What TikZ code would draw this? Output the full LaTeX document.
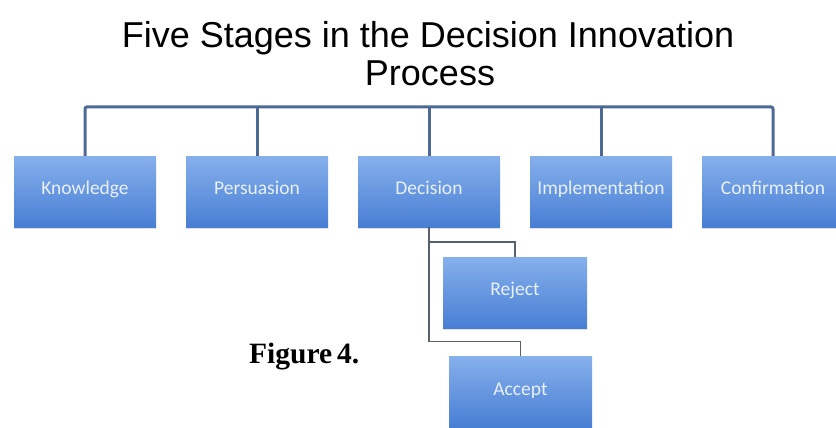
\documentclass[tikz,border=0pt]{standalone}
\usepackage{fontspec}
\setmainfont{Liberation Serif}
\newfontfamily\titlefont{Liberation Sans}
\newfontfamily\boxfont{Carlito}
\usetikzlibrary{shadows}
\definecolor{boxtop}{RGB}{134,176,236}
\definecolor{boxbot}{RGB}{72,126,212}
\definecolor{boxtext}{RGB}{232,240,252}
\definecolor{busline}{RGB}{76,106,148}
\definecolor{subline}{RGB}{88,96,108}
\tikzset{
  stagebox/.style={minimum width=142pt, minimum height=71pt, inner sep=0pt,
    top color=boxtop, bottom color=boxbot, draw=none,
    text height=0.68em, text depth=0.05em,
    drop shadow={opacity=0.25, shadow xshift=0pt, shadow yshift=-2pt},
    text=boxtext, font=\boxfont\fontsize{19.5}{22}\selectfont},
  bus/.style={draw=busline, line width=3pt, rounded corners=2pt},
  sub/.style={draw=subline, line width=1.6pt},
  titletext/.style={font=\titlefont\fontsize{36}{40}\selectfont, anchor=base, inner sep=0pt}
}
\begin{document}
\begin{tikzpicture}[x=1pt,y=-1pt]
\useasboundingbox[fill=white] (0,0) rectangle (836,428);
\node[titletext] (t1) at (428,48) {Five Stages in the Decision Innovation};
\node[titletext] (t2) at (430,85) {Process};
\coordinate (busy) at (0,107);
\node[stagebox] (kno) at (85,191.5) {Knowledge};
\node[stagebox] (per) at (257,191.5) {Persuasion};
\node[stagebox] (dec) at (429,191.5) {Decision};
\node[stagebox] (imp) at (601,191.5) {Implementation};
\node[stagebox] (con) at (773,191.5) {Confirmation};
\node[stagebox, minimum width=144pt] (rej) at (515,292.5) {Reject};
\node[stagebox, minimum width=143pt] (acc) at (520.5,392) {Accept};
\draw[bus] (kno.north) -- (kno.north |- busy) -- (con.north |- busy) -- (con.north);
\draw[bus] (per.north) -- (per.north |- busy);
\draw[bus] (dec.north) -- (dec.north |- busy);
\draw[bus] (imp.north) -- (imp.north |- busy);
\draw[sub] (dec.south) |- ([yshift=15pt]rej.north) -- (rej.north);
\draw[sub] (dec.south) |- ([yshift=15pt]acc.north) -- (acc.north);
\node[anchor=base west, inner sep=0pt, font=\bfseries\fontsize{29.5}{33}\selectfont] (fig) at (249,363) {Figure\,4.};
\end{tikzpicture}
\end{document}
